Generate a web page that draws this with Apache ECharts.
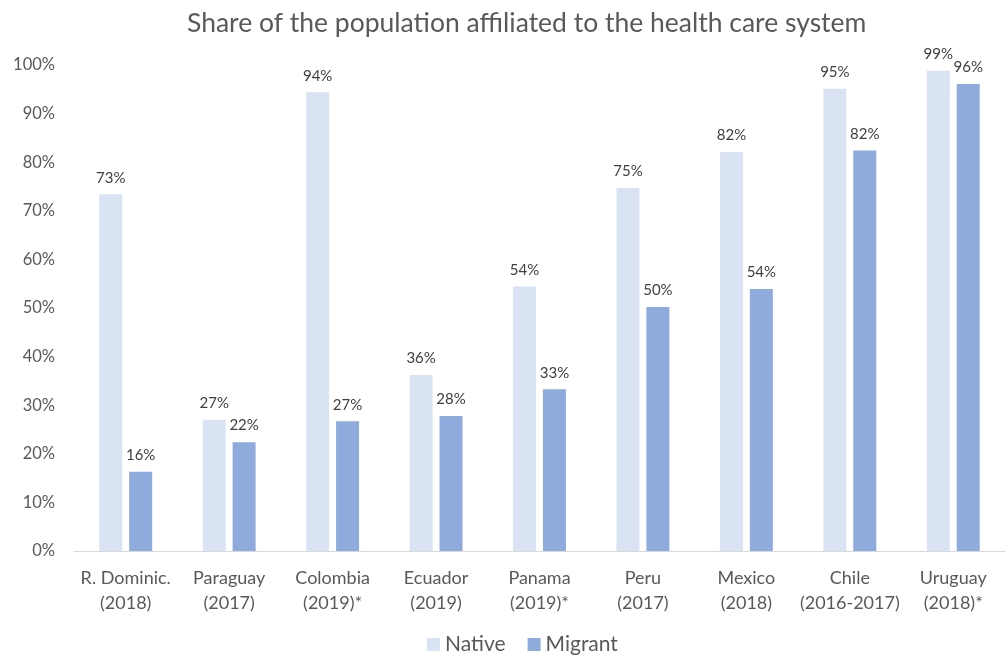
<!DOCTYPE html>
<html>
<head>
<meta charset="utf-8">
<script src="https://cdn.jsdelivr.net/npm/echarts@6/dist/echarts.min.js"></script>
<style>html,body{margin:0;padding:0;background:#fff;}#c{width:1008px;height:661px;}</style>
</head>
<body>
<div id="c"></div>
<script>
const categories = ["R. Dominic.\n(2018)", "Paraguay\n(2017)", "Colombia\n(2019)*", "Ecuador\n(2019)", "Panama\n(2019)*", "Peru\n(2017)", "Mexico\n(2018)", "Chile\n(2016-2017)", "Uruguay\n(2018)*"];
const nativeValues = [73.4, 27.0, 94.4, 36.2, 54.4, 74.7, 82.1, 95.1, 98.8];
const migrantValues = [16.3, 22.4, 26.7, 27.8, 33.3, 50.2, 53.9, 82.4, 96.1];
const yTicks = [0, 10, 20, 30, 40, 50, 60, 70, 80, 90, 100];

const font = "Lato, 'Open Sans', sans-serif";
const chart = echarts.init(document.getElementById('c'));
const lbl = {
  show: true, position: 'top', distance: 9, color: '#404040', fontSize: 15, fontFamily: font,
  formatter: p => Math.round(p.value) + '%'
};
chart.setOption({
  animation: false,
  title: {
    text: 'Share of the population affiliated to the health care system',
    left: 182, top: 5,
    textStyle: { color: '#595959', fontSize: 26.5, fontWeight: 'normal', fontFamily: font }
  },
  legend: {
    bottom: 1, left: 422, itemWidth: 13, itemHeight: 13, itemGap: 22,
    icon: 'rect',
    textStyle: { color: '#595959', fontSize: 21, fontFamily: font },
    data: ['Native', 'Migrant']
  },
  grid: { left: 74, right: 3, top: 65, bottom: 110 },
  xAxis: {
    type: 'category', data: categories,
    axisLine: { lineStyle: { color: '#d9d9d9', width: 1 } },
    axisTick: { show: false },
    axisLabel: { color: '#595959', fontSize: 18, fontFamily: font, lineHeight: 25, margin: 15, interval: 0 }
  },
  yAxis: {
    type: 'value', min: yTicks[0], max: yTicks[yTicks.length - 1], interval: 10,
    splitLine: { show: false },
    axisLine: { show: false }, axisTick: { show: false },
    axisLabel: { color: '#595959', fontSize: 16.5, fontFamily: font, margin: 19, formatter: v => v + '%' }
  },
  series: [
    { name: 'Native', type: 'bar', data: nativeValues, barWidth: 23, barGap: '30%',
      itemStyle: { color: '#dae3f3' }, label: lbl },
    { name: 'Migrant', type: 'bar', data: migrantValues, barWidth: 23,
      itemStyle: { color: '#8faadc' }, label: lbl }
  ]
});
</script>
</body>
</html>
